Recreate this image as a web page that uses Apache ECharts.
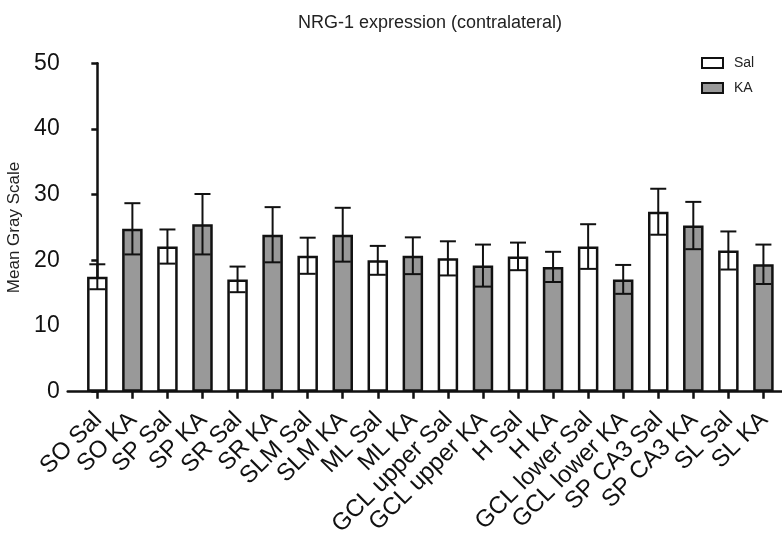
<!DOCTYPE html>
<html>
<head>
<meta charset="utf-8">
<script src="https://cdn.jsdelivr.net/npm/echarts@6/dist/echarts.min.js"></script>
<style>
html,body{margin:0;padding:0;background:#fff;}
#chart{width:782px;height:539px;}
</style>
</head>
<body>
<div id="chart"></div>
<script>
const regions = ['SO', 'SP', 'SR', 'SLM', 'ML', 'GCL upper', 'H', 'GCL lower', 'SP CA3', 'SL'];
const salMean = [17.5, 22.1, 17.1, 20.7, 20.0, 20.3, 20.6, 22.1, 27.4, 21.5];
const salSEM  = [1.9, 2.6, 1.95, 2.75, 2.2, 2.6, 2.1, 3.4, 3.5, 2.9];
const kaMean  = [24.8, 25.5, 23.9, 23.9, 20.7, 19.2, 19.0, 17.1, 25.3, 19.4];
const kaSEM   = [3.9, 4.6, 4.2, 4.1, 2.8, 3.2, 2.3, 2.2, 3.6, 3.0];
const yTicks = [0, 10, 20, 30, 40, 50];

const categories = [];
regions.forEach(r => { categories.push(r + ' Sal'); categories.push(r + ' KA'); });
const positions = categories.map((c, i) => i);
const labelShift = -0.22;
const labelPositions = positions.map(p => p + labelShift);

const salData = regions.map((r, i) => [2 * i, salMean[i]]);
const kaData = regions.map((r, i) => [2 * i + 1, kaMean[i]]);
const errData = [];
regions.forEach((r, i) => {
  errData.push([2 * i, salMean[i] - salSEM[i], salMean[i] + salSEM[i]]);
  errData.push([2 * i + 1, kaMean[i] - kaSEM[i], kaMean[i] + kaSEM[i]]);
});

const chart = echarts.init(document.getElementById('chart'));
const font = 'Liberation Sans, Arial, sans-serif';
chart.setOption({
  animation: false,
  backgroundColor: '#fff',
  title: {
    text: 'NRG-1 expression (contralateral)',
    left: 293, top: 9,
    textStyle: { fontFamily: font, fontSize: 18, fontWeight: 'normal', color: '#222' }
  },
  legend: {
    orient: 'vertical',
    left: 701, top: 56, padding: 0,
    itemWidth: 21, itemHeight: 10, itemGap: 11,
    icon: 'rect',
    textStyle: { fontFamily: font, fontSize: 14, color: '#222', padding: [0, 0, 0, 6] },
    data: ['Sal', 'KA']
  },
  grid: { left: 67.7, right: 0, top: 63.3, bottom: 147.3, containLabel: false, outerBoundsMode: 'none' },
  xAxis: {
    type: 'value',
    min: -0.845, max: 19.53,
    splitLine: { show: false },
    axisLine: { show: true, lineStyle: { color: '#111', width: 2.5 } },
    axisTick: { show: true, customValues: positions, length: 7, lineStyle: { color: '#111', width: 2.5 } },
    axisLabel: {
      customValues: labelPositions,
      rotate: 45, margin: 16, verticalAlign: 'top',
      fontFamily: font, fontSize: 24, color: '#111',
      formatter: v => categories[Math.round(v - labelShift)]
    }
  },
  yAxis: {
    type: 'value',
    min: 0, max: 50, interval: 10,
    name: 'Mean Gray Scale',
    nameLocation: 'middle', nameGap: 40,
    nameTextStyle: { fontFamily: font, fontSize: 17, color: '#222' },
    splitLine: { show: false },
    axisLine: { show: true, lineStyle: { color: '#111', width: 2.5 } },
    axisTick: { show: true, length: 6, lineStyle: { color: '#111', width: 2.5 } },
    axisLabel: {
      margin: 8, fontFamily: font, fontSize: 23, color: '#111',
      formatter: v => yTicks.includes(v) ? String(v) : ''
    }
  },
  series: [
    {
      name: 'Sal', type: 'bar', data: salData,
      barWidth: 20.5, barGap: '-100%',
      itemStyle: { color: '#ffffff', borderColor: '#111', borderWidth: 2.5 }
    },
    {
      name: 'KA', type: 'bar', data: kaData,
      barWidth: 20.5, barGap: '-100%',
      itemStyle: { color: '#999999', borderColor: '#111', borderWidth: 2.5 }
    },
    {
      name: 'err', type: 'custom', data: errData, z: 10,
      encode: { x: 0, y: [1, 2] },
      renderItem: (params, api) => {
        const x = api.value(0);
        const lo = api.coord([x, api.value(1)]);
        const hi = api.coord([x, api.value(2)]);
        const hw = 8;
        const style = { stroke: '#111', lineWidth: 2, fill: null };
        return {
          type: 'group',
          children: [
            { type: 'line', shape: { x1: lo[0], y1: lo[1], x2: hi[0], y2: hi[1] }, style },
            { type: 'line', shape: { x1: lo[0] - hw, y1: lo[1], x2: lo[0] + hw, y2: lo[1] }, style },
            { type: 'line', shape: { x1: hi[0] - hw, y1: hi[1], x2: hi[0] + hw, y2: hi[1] }, style }
          ]
        };
      }
    }
  ]
});
</script>
</body>
</html>
